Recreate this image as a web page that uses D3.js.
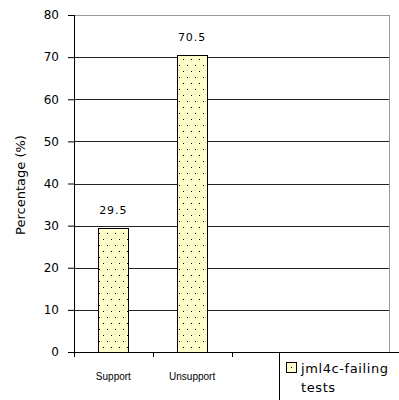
<!DOCTYPE html>
<html>
<head>
<meta charset="utf-8">
<script src="https://cdn.jsdelivr.net/npm/d3@7"></script>
<style>
  body { margin: 0; background: #fff; }
  svg { display: block; }
</style>
</head>
<body>
<svg width="399" height="400"></svg>
<script>
// chart data
const categories = ["Support", "Unsupport", "", " "];
const values = [29.5, 70.5, null, null];
const yTicks = [0, 10, 20, 30, 40, 50, 60, 70, 80];
const seriesName = ["jml4c-failing", "tests"];

const svg = d3.select("svg");
const margin = { top: 15, right: 10, bottom: 48, left: 74 };
const width = 399 - margin.left - margin.right;
const height = 400 - margin.top - margin.bottom;

// dotted fill pattern
const defs = svg.append("defs");
const pat = defs.append("pattern")
  .attr("id", "dots")
  .attr("patternUnits", "userSpaceOnUse")
  .attr("width", 8).attr("height", 12);
pat.append("rect").attr("width", 8).attr("height", 12).attr("fill", "#ffffcc");
pat.append("rect").attr("x", 1).attr("y", 2).attr("width", 1).attr("height", 1).attr("fill", "#000");
pat.append("rect").attr("x", 5).attr("y", 8).attr("width", 1).attr("height", 1).attr("fill", "#000");

const g = svg.append("g").attr("transform", `translate(${margin.left},${margin.top})`);

const x = d3.scaleBand().domain(categories).range([0, width]).paddingInner(0).paddingOuter(0);
const y = d3.scaleLinear().domain([0, 80]).range([height, 0]);

// gridlines
g.selectAll(".grid")
  .data(yTicks.filter(d => d > 0))
  .enter().append("line")
  .attr("x1", 0).attr("x2", width)
  .attr("y1", d => Math.round(y(d)) + 0.5).attr("y2", d => Math.round(y(d)) + 0.5)
  .attr("stroke", d => d === 80 ? "#999" : "#222")
  .attr("stroke-width", 1);

// right border
g.append("line")
  .attr("x1", width + 0.5).attr("x2", width + 0.5)
  .attr("y1", Math.round(y(80))).attr("y2", height)
  .attr("stroke", "#999");

// bars
const barW = 31;
const bars = categories.map((c, i) => ({ c, v: values[i] })).filter(d => d.v != null);
g.selectAll(".bar")
  .data(bars)
  .enter().append("rect")
  .attr("class", "bar")
  .attr("x", d => Math.round(x(d.c) + x.bandwidth() / 2 - barW / 2) + 0.5)
  .attr("y", d => Math.round(y(d.v)) + 0.5)
  .attr("width", barW - 1)
  .attr("height", d => Math.round(height - y(d.v)))
  .attr("fill", "url(#dots)")
  .attr("stroke", "#000")
  .attr("stroke-width", 1);

// value labels
g.selectAll(".val")
  .data(bars)
  .enter().append("text")
  .attr("x", d => x(d.c) + x.bandwidth() / 2)
  .attr("y", d => y(d.v) - 14)
  .attr("text-anchor", "middle")
  .attr("font-family", "DejaVu Sans")
  .attr("font-size", 11)
  .attr("letter-spacing", 1)
  .text(d => d.v.toFixed(1));

// legend (drawn under the x axis ticks)
const lg = svg.append("g").attr("transform", `translate(279,${margin.top + height})`);
lg.append("rect")
  .attr("x", 0.5).attr("y", 0.5).attr("width", 200).attr("height", 100)
  .attr("fill", "#fff").attr("stroke", "#000");
lg.append("rect")
  .attr("x", 7.5).attr("y", 10.5).attr("width", 10).attr("height", 10)
  .attr("fill", "#ffffcc").attr("stroke", "#000");
lg.append("rect").attr("x", 12).attr("y", 15).attr("width", 1).attr("height", 1).attr("fill", "#000");
lg.append("text")
  .attr("x", 22).attr("y", 21)
  .attr("font-family", "DejaVu Sans")
  .attr("font-size", 13)
  .attr("letter-spacing", 0.6)
  .selectAll("tspan")
  .data(seriesName)
  .enter().append("tspan")
  .attr("x", 22)
  .attr("dy", (d, i) => i === 0 ? 0 : 19)
  .text(d => d);

// y axis
const yAxis = g.append("g")
  .call(d3.axisLeft(y).tickValues(yTicks).tickSize(6).tickPadding(9));
yAxis.select(".domain").attr("stroke", "#000").attr("d", `M0.5,${height}V0`);
yAxis.selectAll(".tick line").attr("stroke", "#000");
yAxis.selectAll("text").attr("font-family", "DejaVu Sans").attr("font-size", 12).attr("fill", "#000");

// x axis
const xAxis = g.append("g")
  .attr("transform", `translate(0,${height})`)
  .call(d3.axisBottom(x).tickSize(0).tickPadding(21));
xAxis.select(".domain").attr("stroke", "#000").attr("d", `M0,0.5H${width}`);
xAxis.selectAll("text").attr("font-family", "Liberation Sans").attr("font-size", 10).attr("fill", "#000");
// category boundary ticks
g.selectAll(".xtick")
  .data(d3.range(categories.length + 1))
  .enter().append("line")
  .attr("x1", i => Math.round(i * x.step()) + 0.5)
  .attr("x2", i => Math.round(i * x.step()) + 0.5)
  .attr("y1", height).attr("y2", height + 5)
  .attr("stroke", "#000");

// y label
svg.append("text")
  .attr("transform", "translate(25,185) rotate(-90)")
  .attr("text-anchor", "middle")
  .attr("font-family", "DejaVu Sans")
  .attr("font-size", 13)
  .text("Percentage (%)");
</script>
</body>
</html>
